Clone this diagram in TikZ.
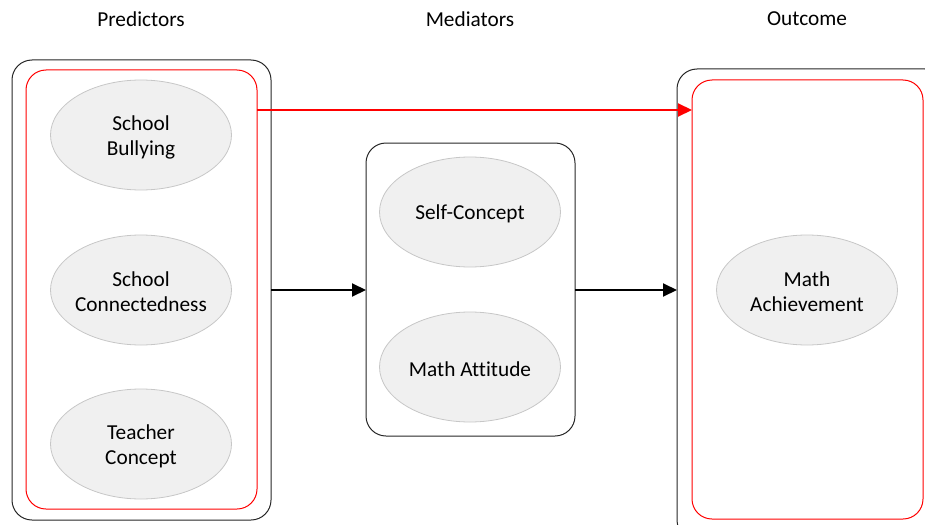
\documentclass[tikz,border=0pt]{standalone}
\usepackage{fontspec}
\setmainfont[Ligatures=NoCommon]{Carlito}
\usetikzlibrary{arrows.meta,shapes.geometric}
\begin{document}
\begin{tikzpicture}[x=1pt,y=-1pt,
  var/.style={ellipse,draw=black!22,fill=black!6,line width=0.8pt,minimum width=181pt,minimum height=110pt,inner sep=0pt,align=center,font=\fontsize{21.3}{25}\selectfont},
  txt/.style={align=center,font=\fontsize{21.3}{25}\selectfont,yshift=-2pt,inner sep=0pt},
  hdr/.style={font=\fontsize{21.3}{25}\selectfont},
  outer/.style={draw=black!85,line width=1pt,rounded corners=20pt},
  inner/.style={draw=red,line width=1pt,rounded corners=20pt},
  blk/.style={draw=black,line width=2pt,-{Triangle[length=14pt,width=13pt]}},
  redarr/.style={draw=red,line width=2pt,-{Triangle[length=14pt,width=13pt]}}]
\useasboundingbox (0,0) rectangle (925,524);
\begin{scope}
\clip (0,0) rectangle (925,524);
% headers
\node[hdr] (hp) at (141,19) {Predictors};
\node[hdr] (hm) at (470,19) {Mediators};
\node[hdr] (ho) at (807,19) {Outcome};
% boxes
\draw[outer] (12,60) rectangle (271,520);
\draw[inner] (26,70) rectangle (257,509);
\draw[outer] (366,143) rectangle (575,436);
\draw[outer] (677,69) rectangle (945,540);
\draw[inner] (692,80) rectangle (923,519);
\coordinate (lo) at (271,290);
\coordinate (mi) at (366,290);
\coordinate (mo) at (575,290);
\coordinate (ro) at (677,290);
\coordinate (lr) at (257,110);
\coordinate (rr) at (692,110);
% nodes
\node[var] (sb) at (141,135) {};
\node[txt] (sbt) at (sb) {School\\Bullying};
\node[var] (sc) at (141,290) {};
\node[txt] (sct) at (sc) {School\\Connectedness};
\node[var] (tc) at (141,444) {};
\node[txt] (tct) at (tc) {Teacher\\Concept};
\node[var] (self) at (470,212) {};
\node[txt] (selft) at (self) {Self-Concept};
\node[var] (ma) at (470,367) {};
\node[txt] (mat) at (ma) {Math Attitude};
\node[var] (ach) at (807,290) {};
\node[txt] (acht) at (ach) {Math\\Achievement};
% arrows
\draw[blk] (lo) -- (mi);
\draw[blk] (mo) -- (ro);
\draw[redarr] (lr) -- (rr);
\end{scope}
\end{tikzpicture}
\end{document}
